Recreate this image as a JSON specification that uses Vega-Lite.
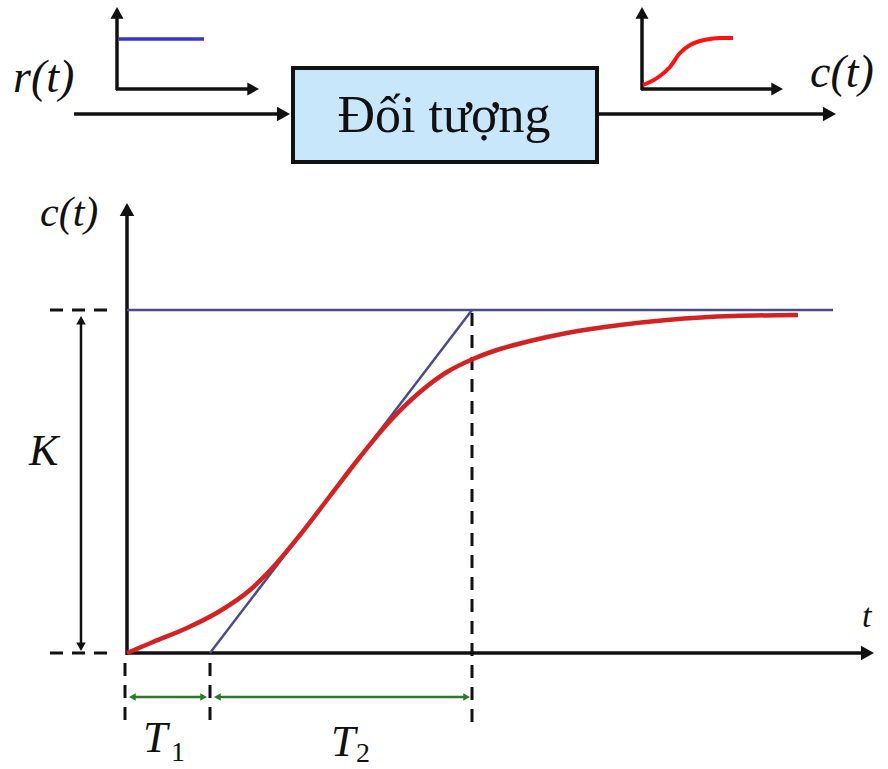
{
  "$schema": "https://vega.github.io/schema/vega-lite/v6.json",
  "width": 888,
  "height": 769,
  "autosize": {"type": "none"},
  "padding": 0,
  "background": "white",
  "config": {"view": {"stroke": null}},
  "datasets": {
    "block": [
      {"name": "Đối tượng", "x": 293, "y": 68, "x2": 597, "y2": 162}
    ],
    "segments": [
      {"group": "flow", "x": 74, "y": 114, "x2": 280, "y2": 114},
      {"group": "flow", "x": 597, "y": 114, "x2": 826, "y2": 114},
      {"group": "miniAxis", "x": 117, "y": 90, "x2": 117, "y2": 16},
      {"group": "miniAxis", "x": 116, "y": 89, "x2": 250, "y2": 89},
      {"group": "miniAxis", "x": 642, "y": 90, "x2": 642, "y2": 16},
      {"group": "miniAxis", "x": 641, "y": 89, "x2": 774, "y2": 89},
      {"group": "step", "x": 119, "y": 39, "x2": 204, "y2": 39},
      {"group": "axis", "x": 127, "y": 655, "x2": 127, "y2": 214},
      {"group": "axis", "x": 126, "y": 653, "x2": 864, "y2": 653},
      {"group": "dim", "x": 81, "y": 322, "x2": 81, "y2": 644},
      {"group": "guide", "x": 50, "y": 310, "x2": 116, "y2": 310},
      {"group": "guide", "x": 50, "y": 653, "x2": 116, "y2": 653},
      {"group": "guide", "x": 125, "y": 663, "x2": 125, "y2": 727},
      {"group": "guide", "x": 210, "y": 663, "x2": 210, "y2": 727},
      {"group": "guide", "x": 472, "y": 313, "x2": 472, "y2": 729},
      {"group": "level", "x": 127, "y": 310, "x2": 833, "y2": 310},
      {"group": "tangent", "x": 210, "y": 653, "x2": 472, "y2": 310},
      {"group": "span", "x": 132, "y": 697, "x2": 204, "y2": 697},
      {"group": "span", "x": 218, "y": 697, "x2": 466, "y2": 697}
    ],
    "heads": [
      {"group": "flow", "dir": "right", "x": 290, "y": 114},
      {"group": "flow", "dir": "right", "x": 836, "y": 114},
      {"group": "miniAxis", "dir": "up", "x": 117, "y": 7},
      {"group": "miniAxis", "dir": "right", "x": 259, "y": 89},
      {"group": "miniAxis", "dir": "up", "x": 642, "y": 7},
      {"group": "miniAxis", "dir": "right", "x": 783, "y": 89},
      {"group": "axis", "dir": "up", "x": 127, "y": 203},
      {"group": "axis", "dir": "right", "x": 874, "y": 653},
      {"group": "dim", "dir": "up", "x": 81, "y": 316},
      {"group": "dim", "dir": "down", "x": 81, "y": 651},
      {"group": "span", "dir": "left", "x": 129, "y": 697},
      {"group": "span", "dir": "right", "x": 207, "y": 697},
      {"group": "span", "dir": "left", "x": 214, "y": 697},
      {"group": "span", "dir": "right", "x": 470, "y": 697}
    ],
    "response": [
      {"x": 127, "y": 653}, {"x": 153, "y": 642}, {"x": 187, "y": 628},
      {"x": 220, "y": 611}, {"x": 250, "y": 590}, {"x": 275, "y": 565},
      {"x": 300, "y": 535}, {"x": 330, "y": 496}, {"x": 360, "y": 457},
      {"x": 390, "y": 421}, {"x": 420, "y": 392}, {"x": 447, "y": 372},
      {"x": 473, "y": 359}, {"x": 500, "y": 349}, {"x": 530, "y": 341},
      {"x": 567, "y": 333}, {"x": 620, "y": 325}, {"x": 667, "y": 320},
      {"x": 733, "y": 316}, {"x": 798, "y": 315}
    ],
    "miniResponse": [
      {"x": 643, "y": 85}, {"x": 652, "y": 81}, {"x": 660, "y": 76},
      {"x": 670, "y": 67}, {"x": 680, "y": 53}, {"x": 690, "y": 45},
      {"x": 700, "y": 41}, {"x": 710, "y": 39}, {"x": 720, "y": 38},
      {"x": 733, "y": 38}
    ],
    "labels": [
      {"role": "signal", "text": "r(t)", "x": 13, "y": 92},
      {"role": "signal", "text": "c(t)", "x": 810, "y": 87},
      {"role": "block", "text": "Đối tượng", "x": 444, "y": 132},
      {"role": "ylabel", "text": "c(t)", "x": 40, "y": 226},
      {"role": "xlabel", "text": "t", "x": 862, "y": 627},
      {"role": "symbol", "text": "K", "x": 29, "y": 465},
      {"role": "symbol", "text": "T", "x": 143, "y": 752},
      {"role": "symbol", "text": "T", "x": 331, "y": 756},
      {"role": "index", "text": "1", "x": 171, "y": 761},
      {"role": "index", "text": "2", "x": 356, "y": 762}
    ]
  },
  "encoding": {
    "x": {"field": "x", "type": "quantitative", "axis": null,
          "scale": {"domain": [0, 888], "nice": false, "zero": false}},
    "y": {"field": "y", "type": "quantitative", "axis": null,
          "scale": {"domain": [0, 769], "nice": false, "zero": false, "reverse": true}}
  },
  "layer": [
    {
      "data": {"name": "block"},
      "mark": {"type": "rect", "fill": "#c9e7fb", "stroke": "#111111", "strokeWidth": 4},
      "encoding": {"x2": {"field": "x2"}, "y2": {"field": "y2"}}
    },
    {
      "data": {"name": "segments"},
      "transform": [{"filter": "datum.group === 'flow' || datum.group === 'miniAxis' || datum.group === 'axis'"}],
      "mark": {"type": "rule", "color": "#111111", "strokeWidth": 3.5},
      "encoding": {"x2": {"field": "x2"}, "y2": {"field": "y2"}}
    },
    {
      "data": {"name": "segments"},
      "transform": [{"filter": "datum.group === 'dim'"}],
      "mark": {"type": "rule", "color": "#111111", "strokeWidth": 2.5},
      "encoding": {"x2": {"field": "x2"}, "y2": {"field": "y2"}}
    },
    {
      "data": {"name": "segments"},
      "transform": [{"filter": "datum.group === 'guide'"}],
      "mark": {"type": "rule", "color": "#111111", "strokeWidth": 3, "strokeDash": [13, 9]},
      "encoding": {"x2": {"field": "x2"}, "y2": {"field": "y2"}}
    },
    {
      "data": {"name": "segments"},
      "transform": [{"filter": "datum.group === 'level' || datum.group === 'tangent'"}],
      "mark": {"type": "rule", "color": "#4a4a8e", "strokeWidth": 2.5},
      "encoding": {"x2": {"field": "x2"}, "y2": {"field": "y2"}}
    },
    {
      "data": {"name": "segments"},
      "transform": [{"filter": "datum.group === 'step'"}],
      "mark": {"type": "rule", "color": "#3434cf", "strokeWidth": 3.5},
      "encoding": {"x2": {"field": "x2"}, "y2": {"field": "y2"}}
    },
    {
      "data": {"name": "segments"},
      "transform": [{"filter": "datum.group === 'span'"}],
      "mark": {"type": "rule", "color": "#2b7a2b", "strokeWidth": 2.5},
      "encoding": {"x2": {"field": "x2"}, "y2": {"field": "y2"}}
    },
    {
      "data": {"name": "response"},
      "mark": {"type": "line", "color": "#d42222", "strokeWidth": 4.5, "interpolate": "monotone"},
      "encoding": {}
    },
    {
      "data": {"name": "miniResponse"},
      "mark": {"type": "line", "color": "#ff1111", "strokeWidth": 4, "interpolate": "monotone"},
      "encoding": {}
    },
    {
      "data": {"name": "heads"},
      "transform": [{"filter": "datum.group === 'flow' || datum.group === 'axis'"}],
      "mark": {"type": "point", "filled": true, "opacity": 1, "color": "#111111", "size": 210},
      "encoding": {
        "shape": {"field": "dir", "type": "nominal", "legend": null,
                  "scale": {"domain": ["up", "down", "left", "right"],
                            "range": ["M0,0L1,1.8L-1,1.8Z", "M0,0L1,-1.8L-1,-1.8Z", "M0,0L1.8,1L1.8,-1Z", "M0,0L-1.8,1L-1.8,-1Z"]}}
      }
    },
    {
      "data": {"name": "heads"},
      "transform": [{"filter": "datum.group === 'miniAxis'"}],
      "mark": {"type": "point", "filled": true, "opacity": 1, "color": "#111111", "size": 169},
      "encoding": {
        "shape": {"field": "dir", "type": "nominal", "legend": null,
                  "scale": {"domain": ["up", "down", "left", "right"],
                            "range": ["M0,0L1,1.8L-1,1.8Z", "M0,0L1,-1.8L-1,-1.8Z", "M0,0L1.8,1L1.8,-1Z", "M0,0L-1.8,1L-1.8,-1Z"]}}
      }
    },
    {
      "data": {"name": "heads"},
      "transform": [{"filter": "datum.group === 'dim'"}],
      "mark": {"type": "point", "filled": true, "opacity": 1, "color": "#111111", "size": 90},
      "encoding": {
        "shape": {"field": "dir", "type": "nominal", "legend": null,
                  "scale": {"domain": ["up", "down", "left", "right"],
                            "range": ["M0,0L1,1.8L-1,1.8Z", "M0,0L1,-1.8L-1,-1.8Z", "M0,0L1.8,1L1.8,-1Z", "M0,0L-1.8,1L-1.8,-1Z"]}}
      }
    },
    {
      "data": {"name": "heads"},
      "transform": [{"filter": "datum.group === 'span'"}],
      "mark": {"type": "point", "filled": true, "opacity": 1, "color": "#2b7a2b", "size": 56},
      "encoding": {
        "shape": {"field": "dir", "type": "nominal", "legend": null,
                  "scale": {"domain": ["up", "down", "left", "right"],
                            "range": ["M0,0L1,1.8L-1,1.8Z", "M0,0L1,-1.8L-1,-1.8Z", "M0,0L1.8,1L1.8,-1Z", "M0,0L-1.8,1L-1.8,-1Z"]}}
      }
    },
    {
      "data": {"name": "labels"},
      "transform": [{"filter": "datum.role === 'signal'"}],
      "mark": {"type": "text", "font": "'Liberation Serif', 'Times New Roman', Times, 'DejaVu Serif', serif", "fontStyle": "italic", "fontSize": 46, "align": "left", "baseline": "alphabetic", "color": "#111111"},
      "encoding": {"text": {"field": "text"}}
    },
    {
      "data": {"name": "labels"},
      "transform": [{"filter": "datum.role === 'block'"}],
      "mark": {"type": "text", "font": "'Liberation Serif', 'Times New Roman', Times, 'DejaVu Serif', serif", "fontSize": 52, "align": "center", "baseline": "alphabetic", "color": "#111111"},
      "encoding": {"text": {"field": "text"}}
    },
    {
      "data": {"name": "labels"},
      "transform": [{"filter": "datum.role === 'ylabel'"}],
      "mark": {"type": "text", "font": "'Liberation Serif', 'Times New Roman', Times, 'DejaVu Serif', serif", "fontStyle": "italic", "fontSize": 42, "align": "left", "baseline": "alphabetic", "color": "#111111"},
      "encoding": {"text": {"field": "text"}}
    },
    {
      "data": {"name": "labels"},
      "transform": [{"filter": "datum.role === 'xlabel'"}],
      "mark": {"type": "text", "font": "'Liberation Serif', 'Times New Roman', Times, 'DejaVu Serif', serif", "fontStyle": "italic", "fontSize": 34, "align": "left", "baseline": "alphabetic", "color": "#111111"},
      "encoding": {"text": {"field": "text"}}
    },
    {
      "data": {"name": "labels"},
      "transform": [{"filter": "datum.role === 'symbol'"}],
      "mark": {"type": "text", "font": "'Liberation Serif', 'Times New Roman', Times, 'DejaVu Serif', serif", "fontStyle": "italic", "fontSize": 44, "align": "left", "baseline": "alphabetic", "color": "#111111"},
      "encoding": {"text": {"field": "text"}}
    },
    {
      "data": {"name": "labels"},
      "transform": [{"filter": "datum.role === 'index'"}],
      "mark": {"type": "text", "font": "'Liberation Serif', 'Times New Roman', Times, 'DejaVu Serif', serif", "fontSize": 28, "align": "left", "baseline": "alphabetic", "color": "#111111"},
      "encoding": {"text": {"field": "text"}}
    }
  ]
}
